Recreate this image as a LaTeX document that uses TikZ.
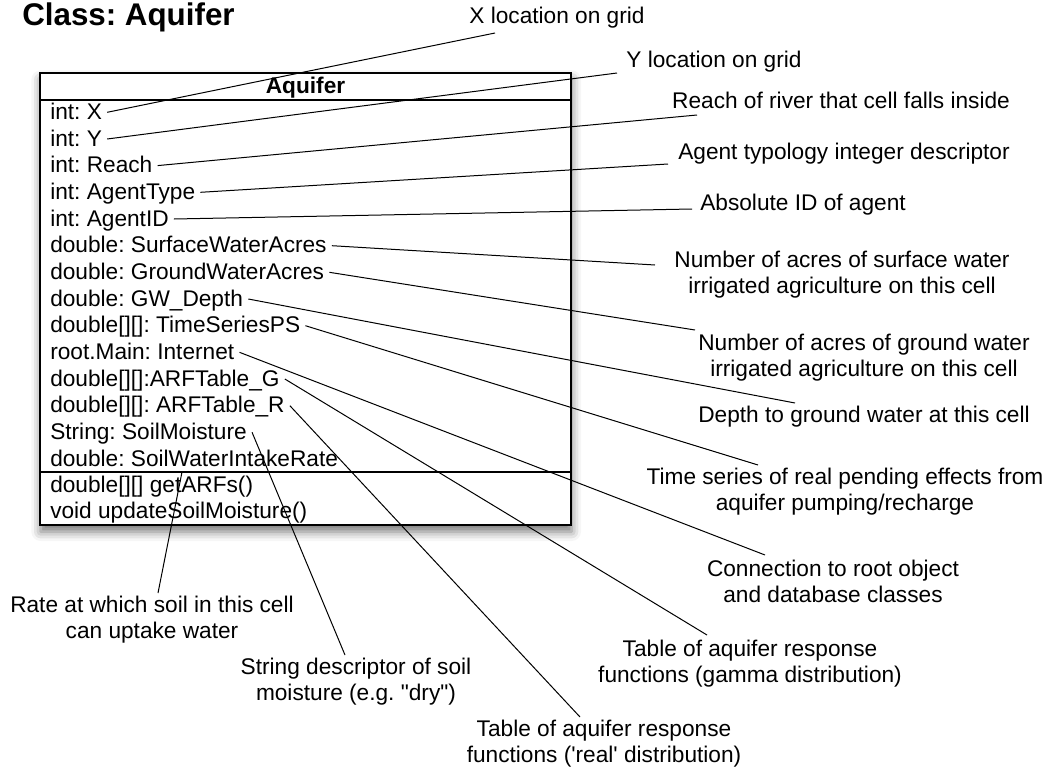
\documentclass[tikz,border=0pt]{standalone}
\usepackage{fontspec}
\setmainfont{Liberation Sans}
\usetikzlibrary{shadows.blur}
\begin{document}
\frenchspacing
\begin{tikzpicture}[x=0.75pt,y=-0.75pt,
  every node/.style={font=\fontsize{17}{19.5}\selectfont, inner sep=0pt},
  classbox/.style={draw, line width=1pt, fill=white, minimum width=398.25pt, minimum height=339pt,
    blur shadow={shadow xshift=0.5pt, shadow yshift=-5pt, shadow blur radius=7pt, shadow opacity=55}},
  attr/.style={anchor=west, text height=10.5pt, text depth=0pt, inner xsep=3.75pt, inner ysep=0pt},
  note/.style={align=center},
  link/.style={line width=0.75pt},
  rule/.style={line width=1pt},
]
\useasboundingbox (0,0) rectangle (1046,771);

% title
\node[anchor=base west, font=\fontsize{23.5}{26}\selectfont\bfseries] (title) at (22,25) {Class: Aquifer};

% class box with its compartments
\node[classbox] (cls) at (305.5,299) {};
\draw[rule] (cls.west |- 0,100) -- (cls.east |- 0,100);
\draw[rule] (cls.west |- 0,472) -- (cls.east |- 0,472);
\node[anchor=base, font=\fontsize{17}{19.5}\selectfont\bfseries] (hdr) at (305.5,93.5) {Aquifer};

% attributes
\node[attr] (a1)  at (45,112.3) {int: X};
\node[attr] (a2)  at (45,139.0) {int: Y};
\node[attr] (a3)  at (45,165.6) {int: Reach};
\node[attr] (a4)  at (45,192.3) {int: AgentType};
\node[attr] (a5)  at (45,219.0) {int: AgentID};
\node[attr] (a6)  at (45,245.7) {double: SurfaceWaterAcres};
\node[attr] (a7)  at (45,272.3) {double: GroundWaterAcres};
\node[attr] (a8)  at (45,299.0) {double: GW\_Depth};
\node[attr] (a9)  at (45,325.7) {double[][]: TimeSeriesPS};
\node[attr] (a10) at (45,352.3) {root.Main: Internet};
\node[attr] (a11) at (45,379.0) {double[][]:ARFTable\_G};
\node[attr] (a12) at (45,405.7) {double[][]: ARFTable\_R};
\node[attr] (a13) at (45,432.3) {String: SoilMoisture};
\node[attr] (a14) at (45,459.0) {double: SoilWaterIntakeRate};

% operations
\node[attr] (m1) at (45,485.0) {double[][] getARFs()};
\node[attr] (m2) at (45,511.5) {void updateSoilMoisture()};

% annotations
\node (l1) at (557,18) {X location on grid};
\node (l2) at (714,62) {Y location on grid};
\node (l3) at (841,100) {Reach of river that cell falls inside};
\node (l4) at (844,154) {Agent typology integer descriptor};
\node (l5) at (803,205) {Absolute ID of agent};
\node[note] (l6) at (842,274.5) {Number of acres of surface water\\irrigated agriculture on this cell};
\node[note] (l7) at (864,357.5) {Number of acres of ground water\\irrigated agriculture on this cell};
\node (l8) at (864,417) {Depth to ground water at this cell};
\node[note] (l9) at (845,491.5) {Time series of real pending effects from\\aquifer pumping/recharge};
\node[note] (l10) at (833,581.5) {Connection to root object\\and database classes};
\node[note] (l11) at (750,663.5) {Table of aquifer response\\functions (gamma distribution)};
\node[note] (l12) at (604,743.5) {Table of aquifer response\\functions (\textquotesingle real\textquotesingle\ distribution)};
\node[note] (l13) at (356,681.5) {String descriptor of soil\\moisture (e.g. \textquotedbl dry\textquotedbl)};
\node[note] (l14) at (152,620) {Rate at which soil in this cell\\can uptake water};

% connector ends next to the annotations
\coordinate (t1) at (495,33);
\coordinate (t2) at (617,73);
\coordinate (t3) at (697,115);
\coordinate (t4) at (668,164);
\coordinate (t5) at (692,209);
\coordinate (t6) at (655,265);
\coordinate (t7) at (695,330);
\coordinate (t8) at (795,403);
\coordinate (t9) at (758,465);
\coordinate (t10) at (765,555);
\coordinate (t11) at (707,635);
\coordinate (t12) at (580,717);
\coordinate (t13) at (345,655);
\coordinate (t14) at (158,593);
\coordinate (s14) at (182,472);

% connectors
\draw[link] (a1.east) -- (t1);
\draw[link] (a2.east) -- (t2);
\draw[link] (a3.east) -- (t3);
\draw[link] (a4.east) -- (t4);
\draw[link] (a5.east) -- (t5);
\draw[link] (a6.east) -- (t6);
\draw[link] (a7.east) -- (t7);
\draw[link] (a8.east) -- (t8);
\draw[link] (a9.east) -- (t9);
\draw[link] (a10.east) -- (t10);
\draw[link] (a11.east) -- (t11);
\draw[link] (a12.east) -- (t12);
\draw[link] (a13.east) -- (t13);
\draw[link] (s14) -- (t14);
\end{tikzpicture}
\end{document}
